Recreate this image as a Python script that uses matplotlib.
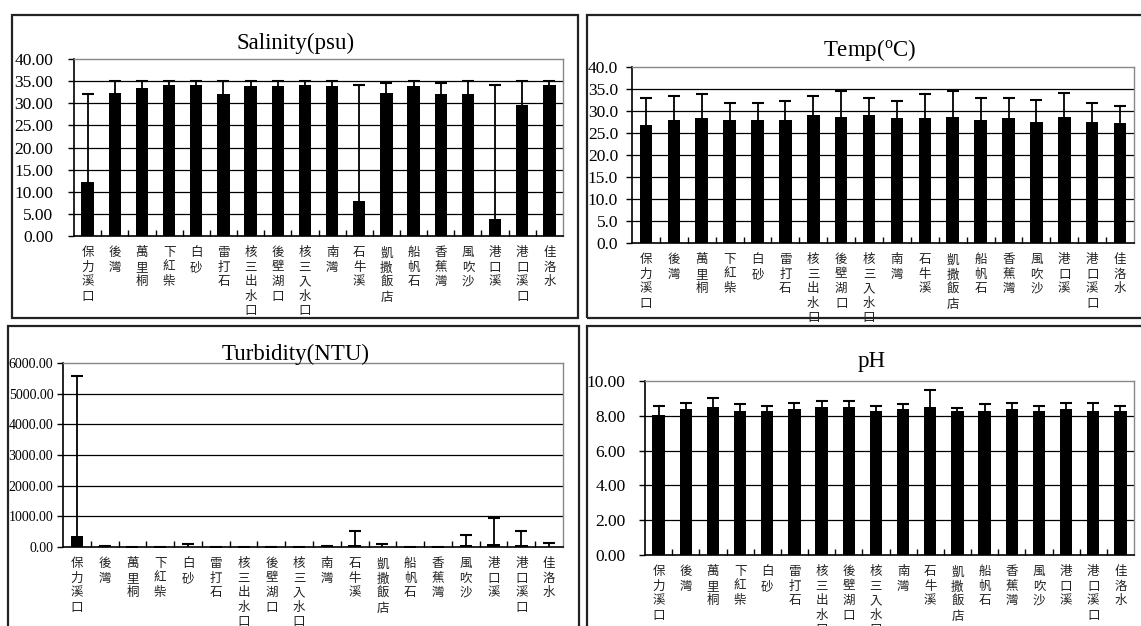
import matplotlib
matplotlib.use('Agg')
import matplotlib.pyplot as plt
import numpy as np
from matplotlib.patches import Rectangle

plt.rcParams['font.family'] = ['Liberation Serif', 'Noto Sans CJK TC']
plt.rcParams['mathtext.fontset'] = 'custom'
plt.rcParams['mathtext.rm'] = 'Liberation Serif'

# sampling sites
sites = ['保力溪口', '後灣', '萬里桐', '下紅柴', '白砂', '雷打石', '核三出水口', '後壁湖口',
         '核三入水口', '南灣', '石牛溪', '凱撒飯店', '船帆石', '香蕉灣', '風吹沙', '港口溪',
         '港口溪口', '佳洛水']

salinity_mean = [12.1, 32.3, 33.5, 34.2, 34.2, 32.0, 33.9, 33.9, 34.2, 33.9, 8.0, 32.3,
                 33.9, 32.0, 32.0, 3.8, 29.7, 34.2]
salinity_sd = [20.1, 2.7, 1.5, 0.8, 0.8, 3.0, 1.1, 1.1, 0.8, 1.1, 26.1, 2.2,
               1.1, 2.5, 3.0, 30.3, 5.3, 0.8]

temp_mean = [26.8, 28.0, 28.3, 28.0, 28.0, 28.0, 29.0, 28.7, 29.0, 28.3, 28.3, 28.7,
             28.0, 28.3, 27.6, 28.7, 27.6, 27.2]
temp_sd = [6.1, 5.4, 5.5, 3.9, 3.9, 4.3, 4.4, 5.8, 3.9, 4.0, 5.5, 5.8,
           4.9, 4.6, 5.0, 5.4, 4.3, 3.9]

turbidity_mean = [360, 25, 5, 4, 10, 5, 5, 5, 5, 30, 55, 10, 5, 5, 50, 90, 50, 10]
turbidity_sd = [5205, 15, 3, 3, 80, 3, 3, 3, 3, 15, 465, 80, 3, 3, 340, 855, 470, 130]

ph_mean = [8.02, 8.38, 8.48, 8.29, 8.29, 8.38, 8.48, 8.48, 8.29, 8.38, 8.48, 8.29,
           8.29, 8.38, 8.29, 8.38, 8.29, 8.29]
ph_sd = [0.53, 0.37, 0.53, 0.36, 0.26, 0.37, 0.36, 0.36, 0.26, 0.27, 0.99, 0.17,
         0.36, 0.37, 0.26, 0.37, 0.46, 0.26]

W, H = 1141, 626
fig = plt.figure(figsize=(W / 100, H / 100), dpi=100)


def box(x0, y0, x1, y1):
    # panel frame, given in pixels from the top left
    fig.patches.append(Rectangle((x0 / W, 1 - y1 / H), (x1 - x0) / W, (y1 - y0) / H,
                                 transform=fig.transFigure, fill=False,
                                 edgecolor='#222222', linewidth=1.6, clip_on=False))


def make_axes(x0, y0, x1, y1):
    return fig.add_axes([x0 / W, 1 - y1 / H, (x1 - x0) / W, (y1 - y0) / H])


def draw(ax, mean, sd, ymax, step, fmt, size, pad):
    x = np.arange(len(sites))
    ax.bar(x, mean, width=0.45, color='black', zorder=3)
    eb = ax.errorbar(x, mean, yerr=[np.zeros(len(sd)), sd], fmt='none', ecolor='black',
                     elinewidth=1.3, capsize=4.6, capthick=1.5, zorder=4)
    eb[1][0].set_visible(False)
    ax.set_xlim(-0.5, len(sites) - 0.5)
    ax.set_ylim(0, ymax)
    ticks = np.arange(0, ymax + step / 2, step)
    ax.set_yticks(ticks)
    ax.set_yticklabels([fmt.format(t) for t in ticks], fontsize=size)
    for t in ticks[1:-1]:
        ax.axhline(t, color='black', linewidth=0.9, zorder=1)
    ax.set_xticks(x)
    ax.set_xticklabels(['\n'.join(s) for s in sites], fontsize=9, linespacing=1.28,
                       va='top', color='#222222')
    ax.set_xticks(x[:-1] + 0.5, minor=True)
    ax.tick_params(axis='x', which='major', length=0, pad=8)
    ax.tick_params(axis='x', which='minor', direction='in', length=4, width=1)
    ax.tick_params(axis='y', direction='out', length=4, width=1, pad=pad)
    for s in ['left', 'bottom']:
        ax.spines[s].set_color('black')
        ax.spines[s].set_linewidth(1.2)
    for s in ['top', 'right']:
        ax.spines[s].set_color('#888888')
        ax.spines[s].set_linewidth(1.0)


box(12, 15, 578, 318)
box(587, 15, 1160, 318)
box(8, 326, 579, 640)
box(587, 326, 1160, 640)

ax1 = make_axes(74, 59, 563, 236)
draw(ax1, salinity_mean, salinity_sd, 40, 5, '{:.2f}', 12.5, 11)
fig.text(296 / W, 1 - 43 / H, 'Salinity(psu)', ha='center', va='center', fontsize=16.5)

ax2 = make_axes(632, 67, 1134, 243)
draw(ax2, temp_mean, temp_sd, 40, 5, '{:.1f}', 12.5, 6)
fig.text(870 / W, 1 - 50 / H, r'Temp($\mathregular{^o}$C)', ha='center', va='center',
         fontsize=16.5)

ax3 = make_axes(63, 363, 563, 547)
draw(ax3, turbidity_mean, turbidity_sd, 6000, 1000, '{:.2f}', 10, 3)
fig.text(296 / W, 1 - 354 / H, 'Turbidity(NTU)', ha='center', va='center', fontsize=16.5)

ax4 = make_axes(645, 381, 1134, 555)
draw(ax4, ph_mean, ph_sd, 10, 2, '{:.2f}', 12.5, 10)
fig.text(872 / W, 1 - 362 / H, 'pH', ha='center', va='center', fontsize=16.5)

plt.savefig('out.png', dpi=100)
plt.close()
